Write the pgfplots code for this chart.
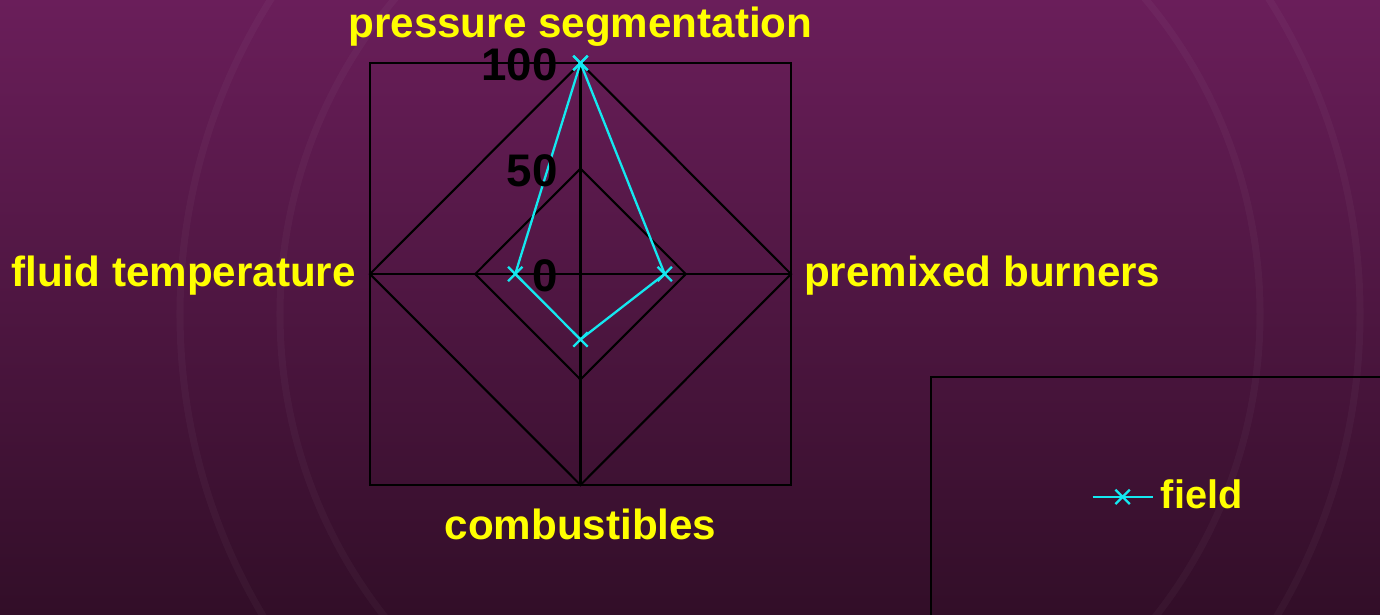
\documentclass[border=0pt]{standalone}
\usepackage{pgfplots}
\pgfplotsset{compat=1.18}
\usepackage{fontspec}
\setmainfont{Liberation Sans}
\definecolor{bgtop}{RGB}{106,30,90}
\definecolor{bgbot}{RGB}{50,14,40}
\definecolor{series}{RGB}{20,232,240}
\definecolor{labelyel}{RGB}{255,255,0}

\begin{document}
\begin{tikzpicture}
\path[use as bounding box] (0,0) rectangle (13.8,6.14);
\clip (0,0) rectangle (13.8,6.14);
\shade[top color=bgtop, bottom color=bgbot] (0,0) rectangle (13.8,6.14);
% faint seal in the background
\draw[white, opacity=0.03, line width=2pt] (7.7,3.0) circle (5.9);
\draw[white, opacity=0.03, line width=2pt] (7.7,3.0) circle (4.9);
% legend frame, runs off the page
\draw[black, line width=0.6pt] (9.31,-1) rectangle (14.5,2.37);

\begin{axis}[
  at={(3.70cm,1.29cm)}, anchor=south west, scale only axis,
  width=4.21cm, height=4.22cm,
  xmin=-100, xmax=100, ymin=-100, ymax=100,
  xtick=\empty, ytick=\empty,
  axis line style={black, line width=0.6pt},
  clip=false,
  legend style={at={(axis description cs:1.712,-0.028)}, anchor=west,
    draw=none, fill=none, inner sep=0pt,
    font=\fontsize{11.3}{13}\selectfont\bfseries, text=labelyel},
]
% grid: rings at 50 and 100, spokes
\addplot[black, line width=0.6pt, forget plot] coordinates {(0,100)(100,0)(0,-100)(-100,0)(0,100)};
\addplot[black, line width=0.6pt, forget plot] coordinates {(0,50)(50,0)(0,-50)(-50,0)(0,50)};
\addplot[black, line width=0.6pt, forget plot] coordinates {(-100,0)(100,0)};
\addplot[black, line width=0.6pt, forget plot] coordinates {(0,-100)(0,100)};

% series: pressure segmentation, premixed burners, combustibles, fluid temperature
\addplot[series, line width=0.65pt, mark=x, mark size=2.9pt] coordinates {(0,100)(40,0)(0,-31)(-31,0)(0,100)};
\addlegendentry{field}

% radial scale
\node[font=\fontsize{13}{15}\selectfont\bfseries, black, anchor=east, inner sep=0pt] at (axis cs:-10.5,99) {100};
\node[font=\fontsize{13}{15}\selectfont\bfseries, black, anchor=east, inner sep=0pt] at (axis cs:-10.5,49) {50};
\node[font=\fontsize{13}{15}\selectfont\bfseries, black, anchor=east, inner sep=0pt] at (axis cs:-10.5,-1) {0};

% category labels
\begin{scope}[every node/.style={font=\fontsize{12}{14}\selectfont\bfseries, text=labelyel, inner sep=0pt}]
\node[anchor=base] at (axis cs:0,112) {pressure segmentation};
\node[anchor=base west] at (axis cs:105.9,-5.7) {premixed burners};
\node[anchor=base east] at (axis cs:-106.4,-5.7) {fluid temperature};
\node[anchor=base] at (axis cs:0,-125.9) {combustibles};
\end{scope}
\end{axis}
\end{tikzpicture}
\end{document}
